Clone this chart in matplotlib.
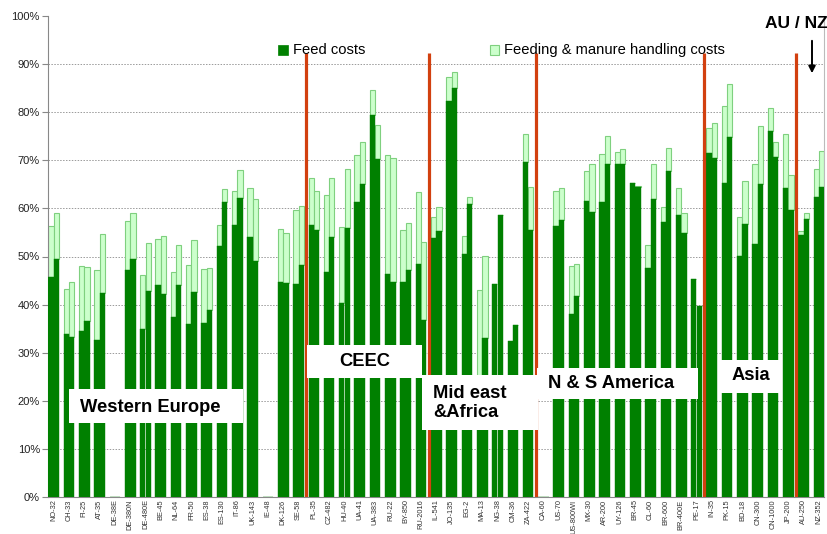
import matplotlib
matplotlib.use("Agg")
import matplotlib.pyplot as plt
from matplotlib.patches import Rectangle
import numpy as np

plt.rcParams['font.family'] = ['Liberation Sans', 'DejaVu Sans']

# ---------------- data (percent) ----------------
farms = ["NO-32", "CH-33", "FI-25", "AT-35", "DE-38E", "DE-380N", "DE-480E", "BE-45",
         "NL-64", "FR-50", "ES-38", "ES-130", "IT-86", "UK-143", "IE-48", "DK-126",
         "SE-58", "PL-35", "CZ-482", "HU-40", "UA-41", "UA-383", "RU-22", "BY-850",
         "RU-2016", "IL-541", "JO-135", "EG-2", "MA-13", "NG-38", "CM-36", "ZA-422",
         "CA-60", "US-70", "US-800WI", "MX-30", "AR-200", "UY-126", "BR-45", "CL-60",
         "BR-600", "BR-400E", "PE-17", "IN-35", "PK-15", "BD-18", "CN-300", "CN-1000",
         "JP-200", "AU-250", "NZ-352"]

# first bar of each farm pair
feed_a = [45.7, 33.9, 34.5, 32.7, 0, 47.2, 35.0, 44.1, 37.4, 35.9, 36.1, 52.1, 56.5,
          54.0, 0, 44.7, 44.2, 56.6, 46.8, 40.3, 61.3, 79.5, 46.3, 44.7, 48.4, 53.9,
          82.3, 50.5, 20.0, 44.2, 32.4, 69.6, 0, 56.3, 38.0, 61.5, 61.3, 69.3, 65.2,
          47.6, 57.2, 58.6, 45.4, 71.5, 65.2, 50.2, 52.7, 76.1, 64.3, 54.4, 62.3]
total_a = [56.3, 43.3, 48.1, 47.2, 0, 57.4, 46.1, 53.7, 46.8, 48.3, 47.5, 56.6, 63.7,
           64.3, 0, 55.7, 59.7, 66.4, 62.9, 56.1, 71.1, 84.7, 71.2, 55.5, 63.4, 58.3,
           87.4, 54.3, 43.1, 44.2, 32.4, 75.6, 0, 63.7, 48.1, 67.8, 71.3, 71.7, 65.4,
           52.3, 60.2, 64.3, 45.4, 76.8, 81.4, 58.2, 69.2, 81.0, 75.6, 55.3, 68.2]
# second bar of each farm pair
feed_b = [49.4, 33.2, 36.6, 42.3, 0, 49.4, 42.9, 42.1, 44.0, 42.7, 38.8, 61.4, 62.1,
          49.0, 0, 44.5, 48.2, 55.6, 54.0, 56.0, 65.1, 70.2, 44.7, 47.1, 36.8, 55.3,
          85.0, 61.0, 33.0, 58.6, 35.8, 55.6, 0, 57.5, 41.7, 59.2, 69.3, 69.3, 64.5,
          62.0, 67.8, 54.8, 39.8, 70.5, 74.8, 56.7, 65.1, 70.8, 59.6, 57.8, 64.4]
total_b = [59.1, 44.7, 47.9, 54.6, 0, 59.1, 52.8, 54.3, 52.4, 53.5, 47.7, 64.1, 68.0,
           62.0, 0, 54.8, 60.6, 63.7, 66.4, 68.2, 73.8, 77.3, 70.6, 57.0, 53.1, 60.4,
           88.4, 62.4, 50.2, 58.6, 35.8, 64.5, 0, 64.3, 48.5, 69.3, 75.0, 72.4, 64.7,
           69.3, 72.5, 59.1, 39.8, 77.7, 86.0, 65.8, 77.2, 73.8, 66.9, 59.1, 71.9]

region_breaks = [16.5, 24.5, 31.5, 42.5, 48.5]
region_names = ["Western Europe", "CEEC", "Mid east\n&Africa", "N & S America", "Asia"]
legend_labels = ["Feed costs", "Feeding & manure handling costs"]
y_ticks = list(range(0, 101, 10))

# ---------------- style ----------------
DARK = "#008000"
LIGHT = "#ccffcc"
LIGHT_EDGE = "#7fd07f"
RED = "#d2400f"
W, H = 828, 534

fig = plt.figure(figsize=(W / 100, H / 100), dpi=100)
ax_l, ax_r, ax_t, ax_b = 48.3, 824.3, 16.3, 496.7
ax = fig.add_axes([ax_l / W, 1 - ax_b / H, (ax_r - ax_l) / W, (ax_b - ax_t) / H])

x = np.arange(len(farms))
bw, off = 0.345, 0.175
fa, ta, fb, tb = map(np.array, (feed_a, total_a, feed_b, total_b))

for xs, f, t in ((x - off, fa, ta), (x + off, fb, tb)):
    ax.bar(xs, t - f, bottom=f, width=bw, color=LIGHT, edgecolor=LIGHT_EDGE,
           linewidth=0.8, zorder=2)
    ax.bar(xs, f, width=bw, color=DARK, edgecolor=DARK, linewidth=0.3, zorder=3)

for xb in region_breaks:
    ax.plot([xb, xb], [0, 92.3], color=RED, linewidth=2.3, zorder=4,
            solid_capstyle='butt')

ax.set_xlim(-0.35, len(farms) - 1 + 0.35)
ax.set_ylim(0, 100)
ax.set_yticks(y_ticks)
ax.set_yticklabels([f"{v}%" for v in y_ticks], fontsize=8, color="#222222")
ax.set_xticks(x)
ax.set_xticklabels(farms, rotation=90, fontsize=5.3, color="#333333")
ax.tick_params(axis='x', length=0, pad=2)
ax.tick_params(axis='y', length=4, color="#888888", pad=2)
for yv in y_ticks[1:-1]:
    ax.axhline(yv, color="#9a9a9a", linestyle=(0, (1.5, 1.5)), linewidth=0.7, zorder=1)
ax.spines["top"].set_visible(False)
ax.spines["left"].set_color("#888888")
ax.spines["bottom"].set_color("#888888")
ax.spines["right"].set_color("#bbbbbb")

# ---------------- legend (manual) ----------------
def fx(px):
    return px / W

def fy(py):
    return 1 - py / H

fig.add_artist(Rectangle((fx(278), fy(55)), 10 / W, 10 / H, transform=fig.transFigure,
                         facecolor=DARK, edgecolor=DARK, lw=0.5, zorder=10))
fig.text(fx(293), fy(50), legend_labels[0], fontsize=10.6, va='center', ha='left', zorder=10)
fig.add_artist(Rectangle((fx(490), fy(55)), 9 / W, 10 / H, transform=fig.transFigure,
                         facecolor=LIGHT, edgecolor=LIGHT_EDGE, lw=0.8, zorder=10))
fig.text(fx(504), fy(50), legend_labels[1], fontsize=10.6, va='center', ha='left', zorder=10)

# ---------------- region label boxes ----------------
boxes = [  # (x0, y0, x1, y1, text x, text y, ha)
    (69, 389, 243, 423, 80, 407, 'left'),
    (307, 345, 422, 378, 365, 362, 'center'),
    (422, 375, 538, 430, 433, 403, 'left'),
    (537, 368, 698, 399, 548, 384, 'left'),
    (718, 360, 780, 393, 751, 376, 'center'),
]
for (x0, y0, x1, y1, tx, ty, ha), name in zip(boxes, region_names):
    fig.add_artist(Rectangle((fx(x0), fy(y1)), (x1 - x0) / W, (y1 - y0) / H,
                             transform=fig.transFigure, facecolor="white",
                             edgecolor="none", zorder=11))
    fig.text(fx(tx), fy(ty), name, fontsize=13.2, fontweight='bold', ha=ha,
             va='center', zorder=12, linespacing=1.2)

# ---------------- AU / NZ marker ----------------
fig.text(fx(796), fy(24), "AU / NZ", fontsize=12.5, fontweight='bold', ha='center',
         va='center', zorder=12)
ax.annotate("", xy=(fx(812), fy(76)), xytext=(fx(812), fy(38)),
            xycoords='figure fraction', textcoords='figure fraction',
            arrowprops=dict(arrowstyle='-|>', color='black', lw=1.4,
                            mutation_scale=10), zorder=12)

fig.savefig("out.png", dpi=100)
